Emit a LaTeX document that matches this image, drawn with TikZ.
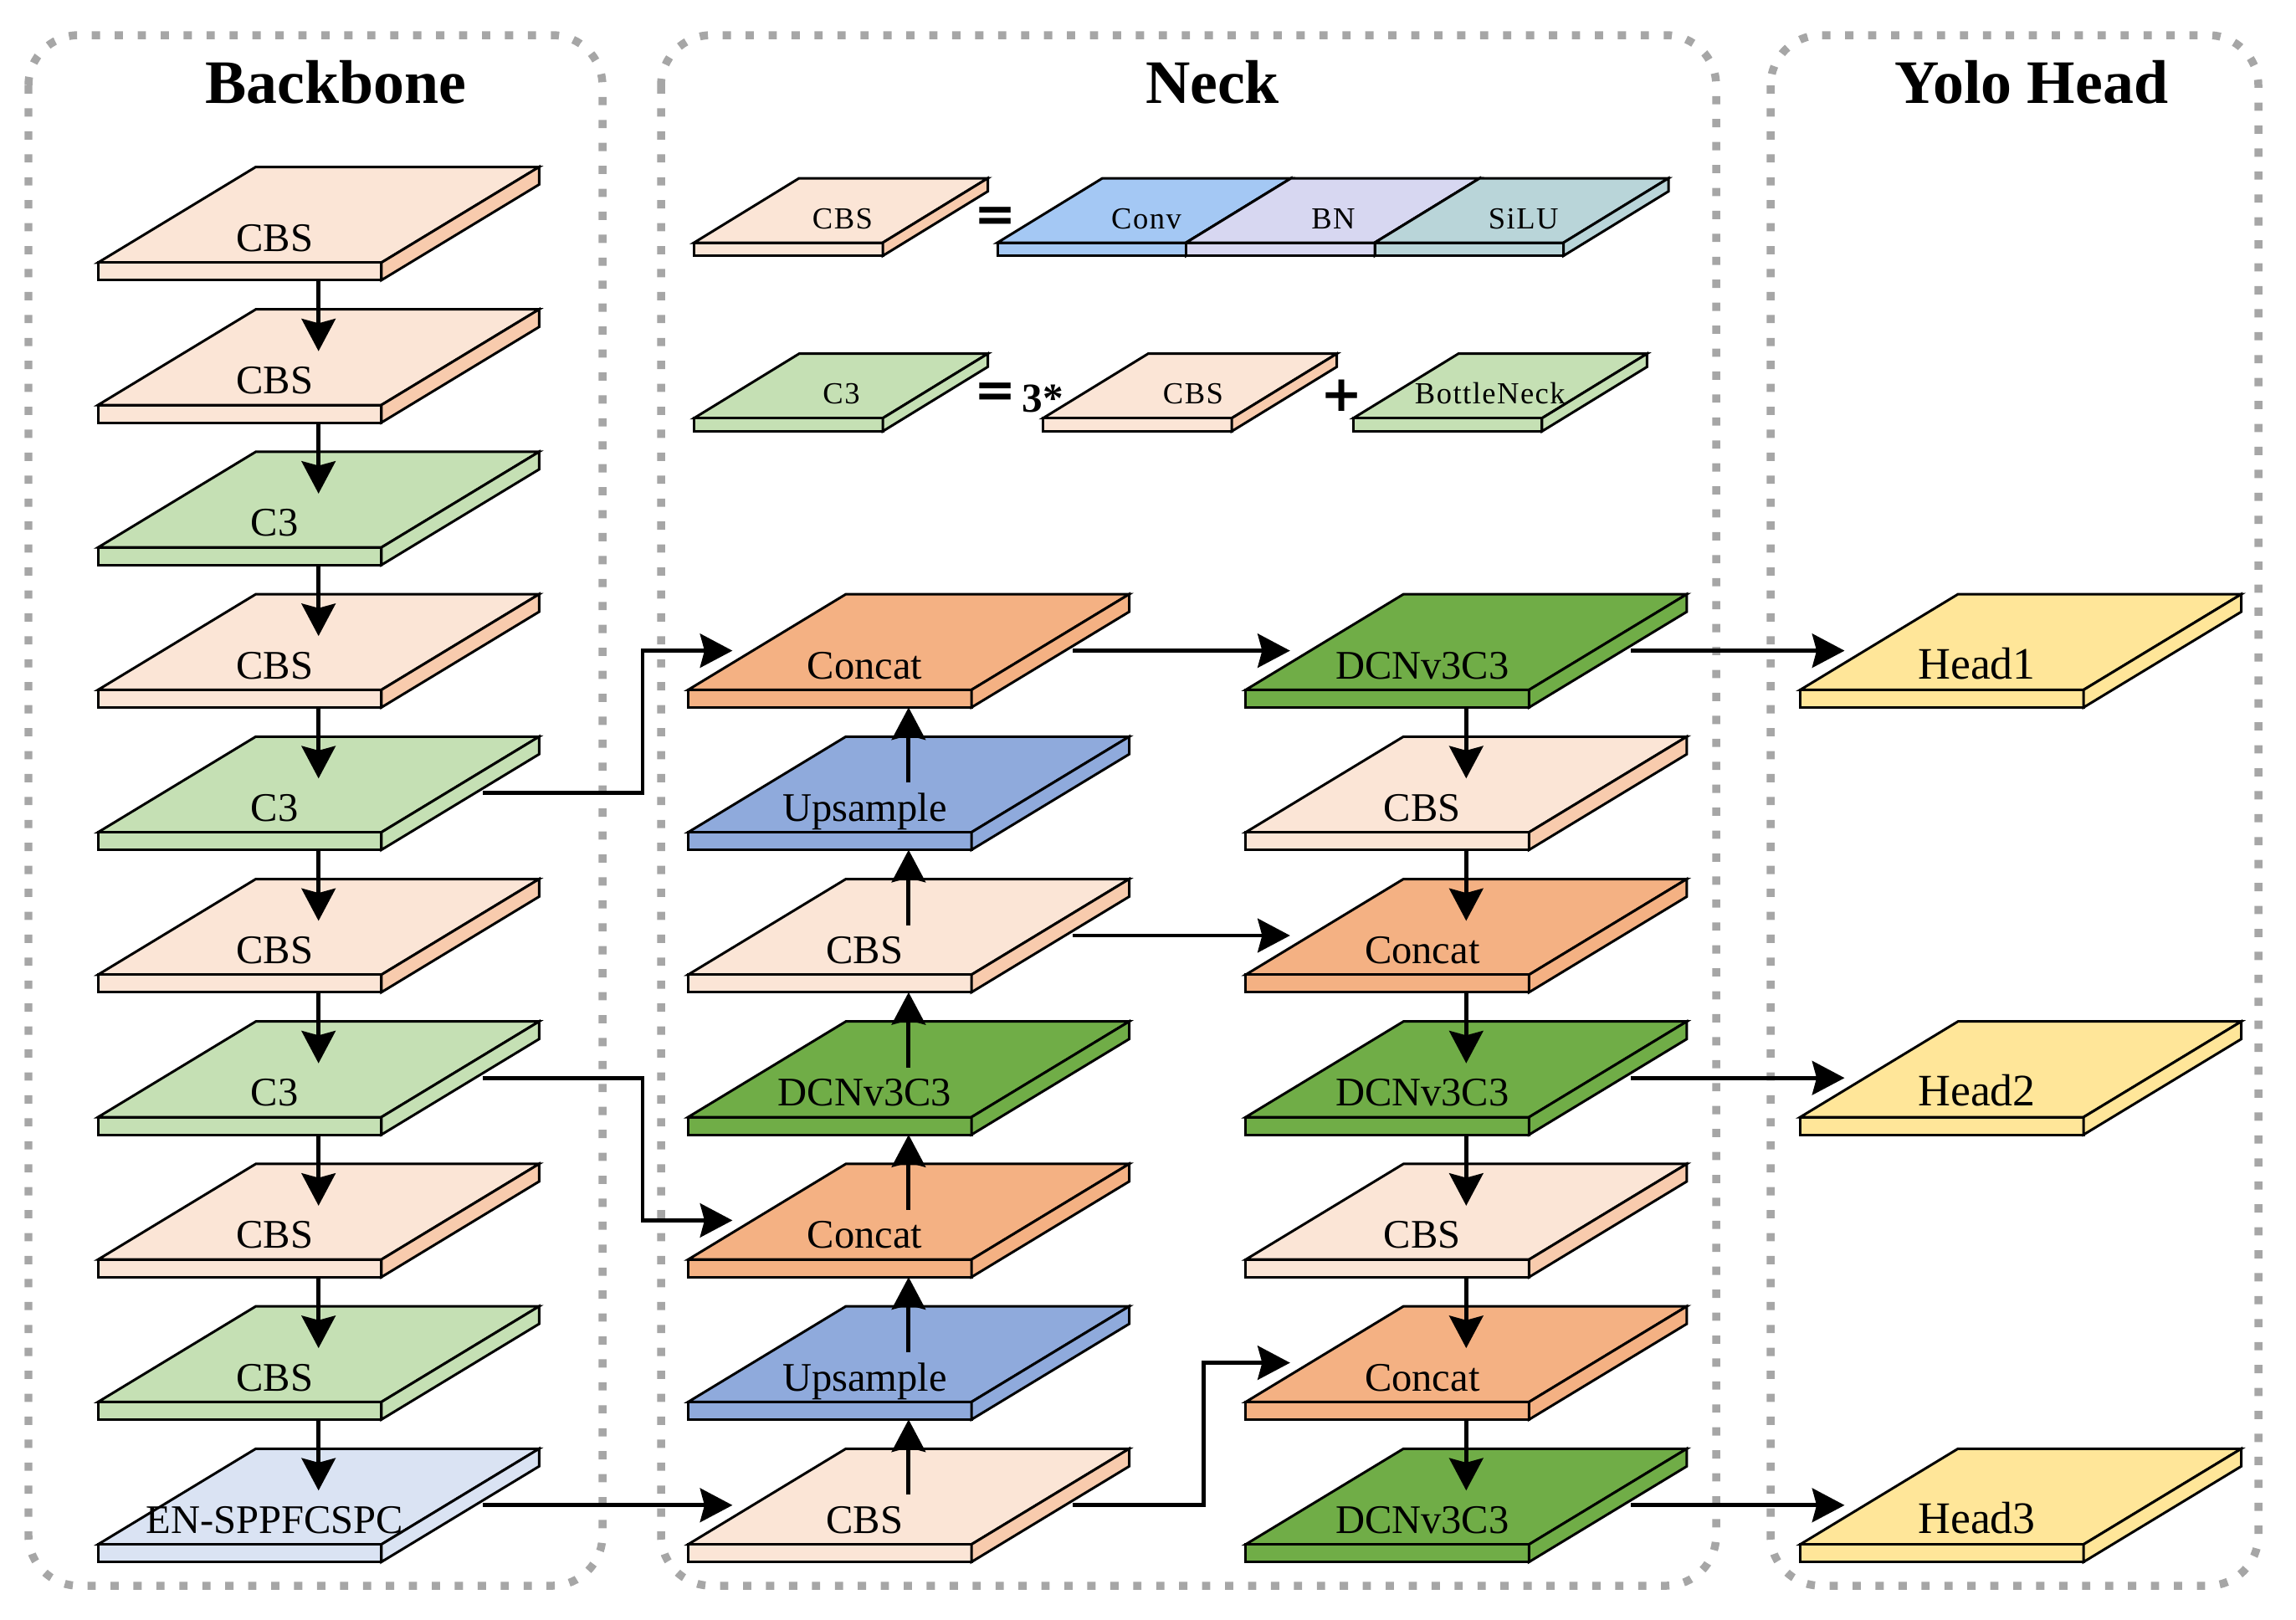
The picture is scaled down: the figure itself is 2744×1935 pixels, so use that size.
\documentclass[tikz,border=0pt]{standalone}
\usepackage{fontspec}
\setmainfont{Liberation Serif}
\newfontfamily\symfont{DejaVu Sans}
\newfontfamily\legfont[LetterSpace=4]{Liberation Serif}
\usetikzlibrary{arrows.meta,calc}

\definecolor{panelgray}{HTML}{A6A6A6}
\definecolor{cbsTop}{HTML}{FBE5D6}
\definecolor{cbsSide}{HTML}{F8CBAD}
\definecolor{cthree}{HTML}{C5E0B4}
\definecolor{enc}{HTML}{DAE3F3}
\definecolor{concatc}{HTML}{F4B183}
\definecolor{upsc}{HTML}{8FAADC}
\definecolor{dcnc}{HTML}{70AD47}
\definecolor{headc}{HTML}{FFE699}
\definecolor{convc}{HTML}{A4C8F4}
\definecolor{bnc}{HTML}{D7D7F1}
\definecolor{siluc}{HTML}{B9D5D9}

\tikzset{
  slabline/.style={draw=black, line width=0.85pt, line join=miter},
  lbl/.style={font=\fontsize{13.8}{16}\selectfont, inner sep=0pt, anchor=base},
  headlbl/.style={font=\fontsize{15.3}{18}\selectfont, inner sep=0pt, anchor=base},
  legl/.style={font=\legfont\fontsize{10.4}{12}\selectfont, inner sep=0pt, anchor=base},
  arr/.style={line width=1.4pt, -{Stealth[length=11pt,width=11.5pt,inset=1.5pt]}},
  panel/.style={draw=panelgray, line width=2.7pt, dash pattern=on 2.8pt off 5pt, rounded corners=0.6cm},
  titletext/.style={font=\bfseries\fontsize{21}{25}\selectfont, inner sep=0pt, anchor=base},
  eqsign/.style={font=\symfont\bfseries\fontsize{17}{20}\selectfont, inner sep=0pt},
  boldnum/.style={font=\bfseries\fontsize{14}{16}\selectfont, inner sep=0pt}
}

% main slab: #1 name, #2 front-left x, #3 top y, #4 fill, #5 side fill, #6 label, #7 label style
\newcommand{\slabx}[7]{%
  \begin{scope}[shift={(#2,#3)}]
    \filldraw[slabline, fill=#4] (0,114.3) -- (338.6,114.3) -- (527.1,0) -- (188.5,0) -- cycle;
    \filldraw[slabline, fill=#4] (0,114.3) rectangle (338.6,135.3);
    \filldraw[slabline, fill=#5] (338.6,114.3) -- (527.1,0) -- (527.1,21) -- (338.6,135.3) -- cycle;
    \node[#7] (#1) at (211,101) {#6};
    \coordinate (#1-c) at (263.5,55);
    \coordinate (#1-b) at (263.5,135.3);
    \coordinate (#1-tip) at (263.5,50);
    \coordinate (#1-in) at (53,67.5);
    \coordinate (#1-out) at (460,67.5);
  \end{scope}}
\newcommand{\slab}[6]{\slabx{#1}{#2}{#3}{#4}{#5}{#6}{lbl}}

% legend slab: #1 name, #2 front-left x, #3 top y, #4 fill, #5 side fill, #6 label, #7 label x offset
\newcommand{\lslab}[7]{%
  \begin{scope}[shift={(#2,#3)}]
    \filldraw[slabline, fill=#4] (0,77) -- (225.5,77) -- (351,0) -- (125.5,0) -- cycle;
    \filldraw[slabline, fill=#4] (0,77) rectangle (225.5,92.7);
    \filldraw[slabline, fill=#5] (225.5,77) -- (351,0) -- (351,15.7) -- (225.5,92.7) -- cycle;
    \node[legl] (#1) at (#7,60) {#6};
  \end{scope}}

\begin{document}
\begin{tikzpicture}[x=0.01cm,y=-0.01cm]
\useasboundingbox (0,0) rectangle (2744,1935);

% panels
\draw[panel] (34,42) rectangle (720,1895);
\draw[panel] (790,42) rectangle (2051,1895);
\draw[panel] (2116,42) rectangle (2699,1895);

\node[titletext] (tb) at (401,123) {Backbone};
\node[titletext] (tn) at (1449,123) {Neck};
\node[titletext] (th) at (2428,123) {Yolo Head};

% legend
\lslab{lcbs}{829.5}{213}{cbsTop}{cbsSide}{CBS}{177.5}
\node[eqsign] (eq1) at (1190,262.5) {=};
\lslab{lconv}{1192}{213}{convc}{convc}{Conv}{178}
\lslab{lbn}{1417.5}{213}{bnc}{bnc}{BN}{176}
\lslab{lsilu}{1643}{213}{siluc}{siluc}{SiLU}{177.7}

\lslab{lc3}{829.5}{422.7}{cthree}{cthree}{C3}{176}
\node[eqsign] (eq2) at (1190,472.5) {=};
\node[boldnum] (three) at (1246,476) {3*};
\lslab{lcbs2}{1246.6}{422.7}{cbsTop}{cbsSide}{CBS}{179.4}
\node[eqsign] (plus) at (1604,472.5) {+};
\lslab{lbneck}{1617.4}{422.7}{cthree}{cthree}{BottleNeck}{163.4}

% backbone
\slab{b1}{117.2}{199.5}{cbsTop}{cbsSide}{CBS}
\slab{b2}{117.2}{369.7}{cbsTop}{cbsSide}{CBS}
\slab{b3}{117.2}{539.9}{cthree}{cthree}{C3}
\slab{b4}{117.2}{710.1}{cbsTop}{cbsSide}{CBS}
\slab{b5}{117.2}{880.3}{cthree}{cthree}{C3}
\slab{b6}{117.2}{1050.5}{cbsTop}{cbsSide}{CBS}
\slab{b7}{117.2}{1220.7}{cthree}{cthree}{C3}
\slab{b8}{117.2}{1390.9}{cbsTop}{cbsSide}{CBS}
\slab{b9}{117.2}{1561.1}{cthree}{cthree}{CBS}
\slab{b10}{117.2}{1731.3}{enc}{enc}{EN-SPPFCSPC}

% neck column 1
\slab{na4}{822.4}{710.1}{concatc}{concatc}{Concat}
\slab{na5}{822.4}{880.3}{upsc}{upsc}{Upsample}
\slab{na6}{822.4}{1050.5}{cbsTop}{cbsSide}{CBS}
\slab{na7}{822.4}{1220.7}{dcnc}{dcnc}{DCNv3C3}
\slab{na8}{822.4}{1390.9}{concatc}{concatc}{Concat}
\slab{na9}{822.4}{1561.1}{upsc}{upsc}{Upsample}
\slab{na10}{822.4}{1731.3}{cbsTop}{cbsSide}{CBS}

% neck column 2
\slab{nb4}{1488.8}{710.1}{dcnc}{dcnc}{DCNv3C3}
\slab{nb5}{1488.8}{880.3}{cbsTop}{cbsSide}{CBS}
\slab{nb6}{1488.8}{1050.5}{concatc}{concatc}{Concat}
\slab{nb7}{1488.8}{1220.7}{dcnc}{dcnc}{DCNv3C3}
\slab{nb8}{1488.8}{1390.9}{cbsTop}{cbsSide}{CBS}
\slab{nb9}{1488.8}{1561.1}{concatc}{concatc}{Concat}
\slab{nb10}{1488.8}{1731.3}{dcnc}{dcnc}{DCNv3C3}

% heads
\slabx{h1}{2151.5}{710.1}{headc}{headc}{Head1}{headlbl}
\slabx{h2}{2151.5}{1220.7}{headc}{headc}{Head2}{headlbl}
\slabx{h3}{2151.5}{1731.3}{headc}{headc}{Head3}{headlbl}

% backbone arrows
\foreach \i [evaluate=\i as \j using int(\i+1)] in {1,...,9}
  \draw[arr] (b\i-b) -- (b\j-tip);

% neck column 1 (upwards)
\foreach \i [evaluate=\i as \j using int(\i-1)] in {10,9,8,7,6,5}
  \draw[arr] (na\i-c) -- (na\j-b);

% neck column 2 (downwards)
\foreach \i [evaluate=\i as \j using int(\i+1)] in {4,...,9}
  \draw[arr] (nb\i-b) -- (nb\j-tip);

% horizontal connectors
\draw[arr] (b10-out) -- (na10-in);
\draw[arr] (na4-out) -- (nb4-in);
\draw[arr] (na6-out) -- (nb6-in);
\draw[arr] (nb4-out) -- (h1-in);
\draw[arr] (nb7-out) -- (h2-in);
\draw[arr] (nb10-out) -- (h3-in);

\coordinate (e1) at (768,0);
\coordinate (e2) at (1438.6,0);
\draw[arr] (b5-out) -- (b5-out -| e1) -- (e1 |- na4-in) -- (na4-in);
\draw[arr] (b7-out) -- (b7-out -| e1) -- (e1 |- na8-in) -- (na8-in);
\draw[arr] (na10-out) -- (na10-out -| e2) -- (e2 |- nb9-in) -- (nb9-in);

\end{tikzpicture}
\end{document}
